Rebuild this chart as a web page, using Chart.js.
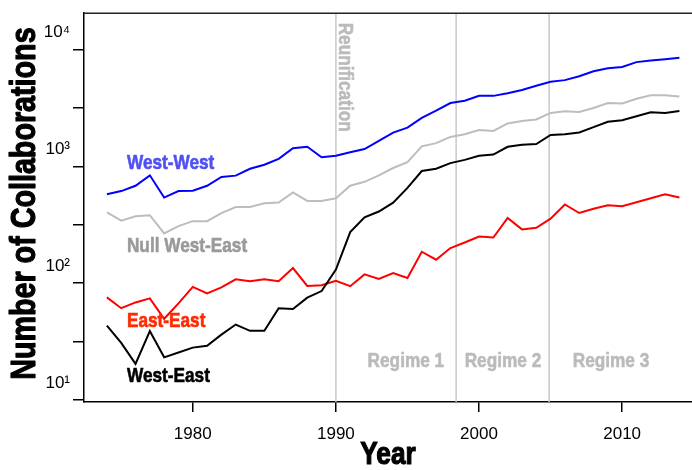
<!DOCTYPE html>
<html>
<head>
<meta charset="utf-8">
<script src="https://cdn.jsdelivr.net/npm/chart.js@4.4.1/dist/chart.umd.min.js"></script>
<style>
  html, body { margin: 0; padding: 0; background: #fff; }
  #wrap { width: 692px; height: 470px; position: relative; }
</style>
</head>
<body>
<div id="wrap"><canvas id="c" width="692" height="470"></canvas></div>
<script>
const years = [1974,1975,1976,1977,1978,1979,1980,1981,1982,1983,1984,1985,1986,1987,1988,1989,1990,
  1991,1992,1993,1994,1995,1996,1997,1998,1999,2000,2001,2002,2003,2004,2005,2006,2007,2008,2009,2010,2011,2012,2013,2014];

const westWest = [577,615,683,839,541,615,620,683,813,834,955,1033,1161,1429,1473,1199,1236,
  1321,1409,1656,1950,2148,2607,3000,3486,3646,4018,4018,4237,4510,4909,5299,5480,5918,6528,6920,7096,7816,8075,8281,8510];

const nullWestEast = [405,343,374,382,267,308,340,340,399,449,449,484,491,600,507,507,534,
  683,738,839,969,1089,1485,1583,1788,1885,2048,2010,2333,2449,2523,2871,2965,2930,3164,3486,3460,3793,4073,4073,3963];

const westEast = [43.3,30.8,20.4,38.9,23.2,25.5,28.1,29.1,36.3,44.3,39.1,39.1,61.1,60.2,75.2,85.7,130.9,
  274,366,411,489,655,914,955,1067,1138,1236,1262,1473,1531,1553,1859,1885,1950,2172,2411,2488,2685,2904,2871,2985];

const eastEast = [75.7,61.1,68.5,74.2,49.6,67.3,93.1,81.8,92.2,108,104,108,104,135,94.9,96.2,105,
  94.4,119,109,122,111,186,159,200,223,251,246,362,289,298,357,472,399,434,466,457,494,534,577,541];

const xTicks = [1980, 1990, 2000, 2010];
const yTicks = [10, 31.6228, 100, 316.228, 1000, 3162.28, 10000];
const eventYears = [1990, 1998.4, 2004.9];
const regimeLabels = ["Regime 1", "Regime 2", "Regime 3"];
const xTitle = "Year";
const yTitle = "Number of Collaborations";

const BOLD = '"Liberation Sans", Arial, sans-serif';
const SANS = '"Liberation Sans", Arial, sans-serif';
const SQUEEZE = 0.82;

function pts(vals) { return years.map((y, i) => ({x: y, y: vals[i]})); }

const sup = {'1':'¹','2':'²','3':'³','4':'⁴','0':'⁰'};

function narrowText(ctx, text, px, py, rot, align, color, size, stroke) {
  ctx.save();
  ctx.translate(px, py);
  if (rot) ctx.rotate(rot);
  ctx.scale(SQUEEZE, 1);
  ctx.font = 'bold ' + size + 'px ' + BOLD;
  ctx.textAlign = align;
  ctx.textBaseline = 'middle';
  ctx.fillStyle = color;
  ctx.fillText(text, 0, 0);
  if (stroke) {
    ctx.strokeStyle = color;
    ctx.lineWidth = stroke;
    ctx.lineJoin = 'round';
    ctx.strokeText(text, 0, 0);
  }
  ctx.restore();
}

const annot = {
  id: 'annot',
  beforeDatasetsDraw(chart) {
    const {ctx, chartArea: a, scales: {x}} = chart;
    ctx.save();
    ctx.strokeStyle = '#c8c8c8';
    ctx.lineWidth = 1.5;
    eventYears.forEach(yr => {
      const px = x.getPixelForValue(yr);
      ctx.beginPath(); ctx.moveTo(px, a.top); ctx.lineTo(px, a.bottom); ctx.stroke();
    });
    ctx.restore();
  },
  afterDatasetsDraw(chart) {
    const {ctx, scales: {x, y}} = chart;
    const seriesLabels = [
      {t: 'West-West', c: '#5050f5', v: 1074},
      {t: 'Null West-East', c: '#9a9a9a', v: 206},
      {t: 'East-East', c: '#ff2a00', v: 47.2},
      {t: 'West-East', c: '#000000', v: 15.9}
    ];
    seriesLabels.forEach(l => {
      narrowText(ctx, l.t, x.getPixelForValue(1975.4), y.getPixelForValue(l.v), 0, 'left', l.c, 21, 0.6);
    });
    const regX = [1994.89, 2001.67, 2009.22];
    regimeLabels.forEach((t, i) => {
      narrowText(ctx, t, x.getPixelForValue(regX[i]), y.getPixelForValue(21.7), 0, 'center', '#bbbbbb', 21, 0.6);
    });
    narrowText(ctx, 'Reunification', x.getPixelForValue(1990.63), y.getPixelForValue(5808), Math.PI / 2, 'center', '#bbbbbb', 21, 0.6);
  },
  afterDraw(chart) {
    const {ctx, chartArea: a, scales: {x, y}} = chart;
    ctx.save();
    ctx.strokeStyle = '#222';
    ctx.lineWidth = 1.5;
    ctx.beginPath(); ctx.moveTo(a.left, a.top); ctx.lineTo(a.right, a.top); ctx.stroke();
    ctx.restore();
    // axis titles
    narrowText(ctx, xTitle, (x.left + x.right) / 2, x.bottom - 15, 0, 'center', '#000', 32, 1.2);
    narrowText(ctx, yTitle, y.left + 25, (y.top + y.bottom) / 2 - 4, -Math.PI / 2, 'center', '#000', 35, 1.2);
  }
};

new Chart(document.getElementById('c'), {
  type: 'line',
  data: {
    datasets: [
      {label: 'Null West-East', data: pts(nullWestEast), borderColor: '#bdbdbd'},
      {label: 'West-East', data: pts(westEast), borderColor: '#000000'},
      {label: 'East-East', data: pts(eastEast), borderColor: '#ff0000'},
      {label: 'West-West', data: pts(westWest), borderColor: '#0000ff'}
    ].map(d => Object.assign(d, {borderWidth: 2, pointRadius: 0, tension: 0, fill: false}))
  },
  options: {
    responsive: false,
    animation: false,
    layout: {padding: {top: 7, right: 0, left: 0, bottom: 0}},
    plugins: {legend: {display: false}, tooltip: {enabled: false}},
    scales: {
      x: {
        type: 'linear',
        min: 1972.4,
        max: 2014.88,
        afterFit(s) { s.height = 68; },
        afterBuildTicks(s) { s.ticks = xTicks.map(v => ({value: v})); },
        grid: {drawOnChartArea: false, drawTicks: true, tickLength: 10, color: '#000', lineWidth: 1.5},
        border: {display: true, color: '#000', width: 1.5},
        ticks: {autoSkip: false, maxRotation: 0, padding: 12, color: '#000',
          font: {family: SANS, size: 17}, callback: v => String(v)},
        title: {display: false}
      },
      y: {
        type: 'logarithmic',
        min: 9.62,
        max: 20500,
        afterFit(s) { s.width = 84; },
        afterBuildTicks(s) { s.ticks = yTicks.map(v => ({value: v})); },
        grid: {drawOnChartArea: false, drawTicks: true, tickLength: 11, color: '#000', lineWidth: 1.5},
        border: {display: true, color: '#000', width: 1.5},
        ticks: {autoSkip: false, padding: 3, color: '#000', labelOffset: -17,
          font: {family: SANS, size: 17},
          callback: (v) => {
            const l = Math.log10(v);
            if (Math.abs(l - Math.round(l)) < 1e-6) return '10' + sup[String(Math.round(l))];
            return '';
          }},
        title: {display: false}
      }
    }
  },
  plugins: [annot]
});
</script>
</body>
</html>
